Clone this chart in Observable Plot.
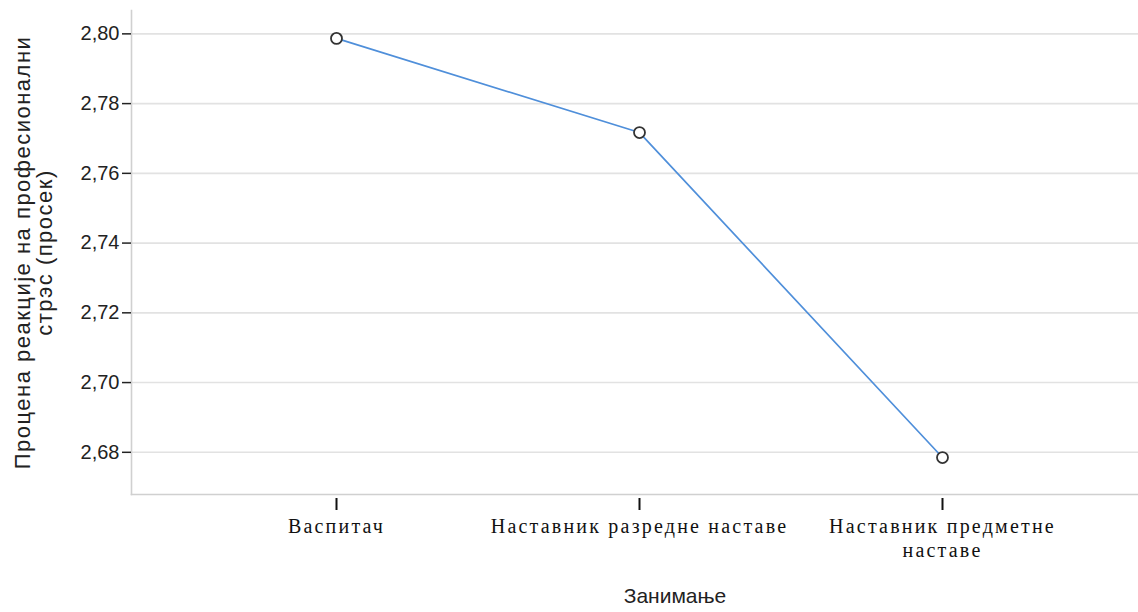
<!DOCTYPE html>
<html><head><meta charset="utf-8">
<script src="https://cdn.jsdelivr.net/npm/d3@7"></script>
<script src="https://cdn.jsdelivr.net/npm/@observablehq/plot@0.6"></script>
<style>
body{margin:0;background:#fff}
.xlab text{letter-spacing:2.2px}
.ylab text{letter-spacing:1.5px}
</style>
</head><body><div id="chart"></div>
<script>
const categories = ["Васпитач", "Наставник разредне наставе", "Наставник предметне\nнаставе"];
const means = [2.7987, 2.7717, 2.6785];
const yTicks = [2.68, 2.70, 2.72, 2.74, 2.76, 2.78, 2.80];
const yLabel = "Процена реакције на професионални\nстрэс (просек)";
const xLabel = "Занимање";

const data = categories.map((c, i) => ({cat: c, mean: means[i]}));

const chart = Plot.plot({
  width: 1138, height: 612,
  marginLeft: 131, marginRight: 0, marginTop: 10, marginBottom: 118,
  style: {background: "#fff", fontFamily: "'Liberation Sans', Arial, sans-serif", overflow: "visible"},
  x: {type: "point", domain: categories, padding: 0.66, align: 0.51, label: null},
  y: {domain: [2.6679, 2.8067], label: null},
  marks: [
    Plot.ruleY(yTicks, {stroke: "#e2e2e2", strokeWidth: 1.6}),
    Plot.frame({anchor: "left", stroke: "#d0d0d0", strokeWidth: 1.6}),
    Plot.frame({anchor: "bottom", stroke: "#d0d0d0", strokeWidth: 1.6}),
    Plot.axisY({ticks: yTicks, tickFormat: d => d.toFixed(2).replace(".", ","), tickSize: 9, tickPadding: 3, fontSize: 20, color: "#222", strokeWidth: 1.5}),
    Plot.axisX({tickSize: 12, dy: 4, tickPadding: 5, fontSize: 20, fontFamily: "'Liberation Serif', 'Times New Roman', serif", lineHeight: 1.2, color: "#111", strokeWidth: 2, className: "xlab"}),
    Plot.line(data, {x: "cat", y: "mean", stroke: "#4f8fda", strokeWidth: 1.7}),
    Plot.dot(data, {x: "cat", y: "mean", r: 5.5, stroke: "#333", strokeWidth: 1.8, fill: "#fff"}),
    Plot.text([yLabel], {frameAnchor: "left", textAnchor: "middle", rotate: -90, dx: -98, fontSize: 22, lineHeight: 1.0, fill: "#222", className: "ylab"}),
    Plot.text([xLabel], {frameAnchor: "bottom", dy: 108, dx: 40, fontSize: 21, fontFamily: "'Liberation Sans Narrow', 'Liberation Sans', sans-serif", fill: "#222"})
  ]
});
document.getElementById("chart").appendChild(chart);
</script>
</body></html>
